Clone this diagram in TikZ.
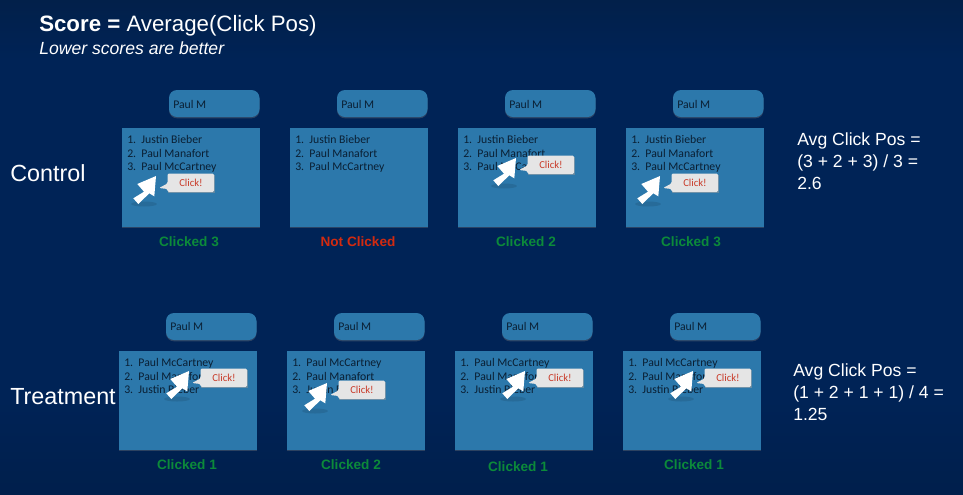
\documentclass[tikz,border=0pt]{standalone}
\usepackage{fontspec}
\setmainfont{Liberation Sans}
\newfontfamily\listfont{Carlito}
\usetikzlibrary{shadows}
\definecolor{slidetop}{HTML}{02204A}
\definecolor{slidemid}{HTML}{002356}
\definecolor{slidelow}{HTML}{001F4C}
\definecolor{cardblue}{HTML}{2C78AB}
\definecolor{cardtext}{HTML}{0A1F33}
\definecolor{okgreen}{HTML}{0C8A3A}
\definecolor{badred}{HTML}{D22A10}
\definecolor{clickred}{HTML}{C93C2A}
\tikzset{
	card/.style={fill=cardblue, draw=none, drop shadow={shadow xshift=0pt, shadow yshift=-1pt, opacity=0.35}},
	searchbox/.style={card, rounded corners=6pt},
	listtext/.style={anchor=north west, inner sep=0pt, align=left, text=cardtext, font=\listfont\fontsize{8.8}{10.3}\selectfont},
	boxtext/.style={anchor=west, inner sep=0pt, text=cardtext, font=\listfont\fontsize{8.8}{10.3}\selectfont},
	group/.style={anchor=west, inner sep=0pt, text=white, font=\fontsize{17.5}{20}\selectfont},
	avgtext/.style={anchor=north west, inner sep=0pt, align=left, text=white, font=\fontsize{13.2}{16.5}\selectfont},
	result/.style={inner sep=0pt, font=\bfseries\fontsize{10.2}{12}\selectfont},
	pics/clickmark/.style={code={
		\fill[black, opacity=0.1] (-12,28) ellipse (13 and 2.5);
		\fill[white] (0,0) -- (-18.7,8) -- (-12,15.7) -- (-22.7,22.3) -- (-17.7,28) -- (-6.7,17.3) -- (-1.7,20.3) -- cycle;
		\fill[black!40, opacity=0.5] (11.5,-1.5) rectangle (58.5,17);
		\fill[gray!20, rounded corners=1pt] (11.5,-2.5) -- (58,-2.5) -- (58,16) -- (11.5,16) -- (11.5,13) -- (3,12) -- (11.5,7.5) -- cycle;
		\node[inner sep=0pt, text=clickred, font=\listfont\fontsize{8}{9}\selectfont] (-label) at (35,6.8) {Click!};
	}},
}
\begin{document}
\begin{tikzpicture}[x=0.75pt, y=-0.75pt]
	\useasboundingbox (0,0) rectangle (963,494);
	\shade[top color=slidetop, bottom color=slidemid] (0,0) rectangle (963,60);
	\fill[slidemid] (0,60) rectangle (963,400);
	\shade[top color=slidemid, bottom color=slidelow] (0,400) rectangle (963,494);

	% heading
	\node[anchor=west, inner sep=0pt, text=white, font=\fontsize{16.7}{20}\selectfont] (title) at (39,26) {\textbf{Score =} Average(Click Pos)};
	\node[anchor=west, inner sep=0pt, text=white, font=\itshape\fontsize{13.2}{15}\selectfont] (subtitle) at (39,48) {Lower scores are better};

	\node[group] (control) at (10,173) {Control};
	\node[group] (treatment) at (10,397) {Treatment};

	% control row
	\fill[searchbox] (169,90) rectangle (259.5,117);
	\fill[searchbox] (337,90) rectangle (427.5,117);
	\fill[searchbox] (505,90) rectangle (595.5,117);
	\fill[searchbox] (673,90) rectangle (763.5,117);
	\node[boxtext] (ctrlq1) at (173,104) {Paul M};
	\node[boxtext] (ctrlq2) at (341,104) {Paul M};
	\node[boxtext] (ctrlq3) at (509,104) {Paul M};
	\node[boxtext] (ctrlq4) at (677,104) {Paul M};

	\fill[card] (122,128) rectangle (260,227);
	\fill[card] (290,128) rectangle (428,227);
	\fill[card] (458,128) rectangle (596,227);
	\fill[card] (626,128) rectangle (764,227);
	\node[listtext] (ctrllist1) at (127,135) {1.\ \ Justin Bieber\\2.\ \ Paul Manafort\\3.\ \ Paul McCartney};
	\node[listtext] (ctrllist2) at (295,135) {1.\ \ Justin Bieber\\2.\ \ Paul Manafort\\3.\ \ Paul McCartney};
	\node[listtext] (ctrllist3) at (463,135) {1.\ \ Justin Bieber\\2.\ \ Paul Manafort\\3.\ \ Paul McCartney};
	\node[listtext] (ctrllist4) at (631,135) {1.\ \ Justin Bieber\\2.\ \ Paul Manafort\\3.\ \ Paul McCartney};

	\pic (ctrlclick1) at (156,176) {clickmark};
	\pic (ctrlclick3) at (516,158) {clickmark};
	\pic (ctrlclick4) at (660,176) {clickmark};

	\node[result, text=okgreen] (ctrlres1) at (189,241.5) {Clicked 3};
	\node[result, text=badred] (ctrlres2) at (358,241.5) {Not Clicked};
	\node[result, text=okgreen] (ctrlres3) at (526,241.5) {Clicked 2};
	\node[result, text=okgreen] (ctrlres4) at (691,241.5) {Clicked 3};

	\node[avgtext] (ctrlavg) at (797,132) {Avg Click Pos =\\(3 + 2 + 3) / 3 =\\2.6};

	% treatment row
	\fill[searchbox] (166,313) rectangle (256.5,340);
	\fill[searchbox] (334,313) rectangle (424.5,340);
	\fill[searchbox] (502,313) rectangle (592.5,340);
	\fill[searchbox] (670,313) rectangle (760.5,340);
	\node[boxtext] (treatq1) at (170,326.5) {Paul M};
	\node[boxtext] (treatq2) at (338,326.5) {Paul M};
	\node[boxtext] (treatq3) at (506,326.5) {Paul M};
	\node[boxtext] (treatq4) at (674,326.5) {Paul M};

	\fill[card] (119,351) rectangle (257,450);
	\fill[card] (287,351) rectangle (425,450);
	\fill[card] (455,351) rectangle (593,450);
	\fill[card] (623,351) rectangle (761,450);
	\node[listtext] (treatlist1) at (124,358) {1.\ \ Paul McCartney\\2.\ \ Paul Manafort\\3.\ \ Justin Bieber};
	\node[listtext] (treatlist2) at (292,358) {1.\ \ Paul McCartney\\2.\ \ Paul Manafort\\3.\ \ Justin Bieber};
	\node[listtext] (treatlist3) at (460,358) {1.\ \ Paul McCartney\\2.\ \ Paul Manafort\\3.\ \ Justin Bieber};
	\node[listtext] (treatlist4) at (628,358) {1.\ \ Paul McCartney\\2.\ \ Paul Manafort\\3.\ \ Justin Bieber};

	\pic (treatclick1) at (189,371) {clickmark};
	\pic (treatclick2) at (327,383) {clickmark};
	\pic (treatclick3) at (525,371) {clickmark};
	\pic (treatclick4) at (693,371) {clickmark};

	\node[result, text=okgreen] (treatres1) at (187,465) {Clicked 1};
	\node[result, text=okgreen] (treatres2) at (351,465) {Clicked 2};
	\node[result, text=okgreen] (treatres3) at (518,467) {Clicked 1};
	\node[result, text=okgreen] (treatres4) at (694,465) {Clicked 1};

	\node[avgtext] (treatavg) at (793,363) {Avg Click Pos =\\(1 + 2 + 1 + 1) / 4 =\\1.25};
\end{tikzpicture}
\end{document}
